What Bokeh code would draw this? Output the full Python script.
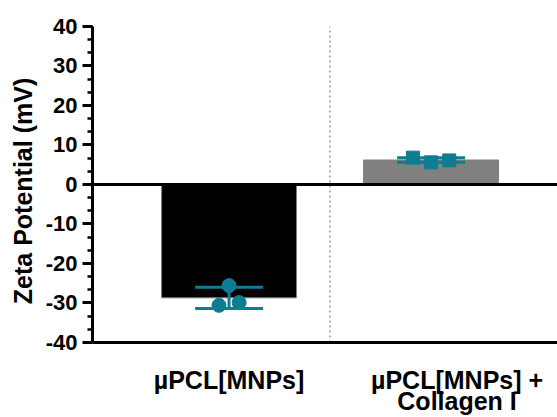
from bokeh.plotting import figure
from bokeh.layouts import column
from bokeh.models import (Range1d, SingleIntervalTicker, Span, ColumnDataSource,
                          PrintfTickFormatter)
from bokeh.core.properties import value
from bokeh.embed import file_html
from bokeh.resources import INLINE

# ---- data ----
categories = ["µPCL[MNPs]", "µPCL[MNPs] +\nCollagen I"]
bar_means = [-28.7, 6.2]
bar_sd = [2.7, 0.6]
points_group1 = [-30.6, -25.6, -29.9]
points_group2 = [6.8, 5.6, 6.1]
jitter_group1 = [-0.05, 0.0, 0.05]
jitter_group2 = [-0.09, 0.0, 0.09]
y_min, y_max = -40, 40
y_ticks_interval = 10

TEAL = "#0e7d92"
FONT = "Liberation Sans"

xs = list(range(1, len(categories) + 1))
x_range = Range1d(0.324, 2.626)

p = figure(width=557, height=355, output_backend="svg", toolbar_location=None,
           x_range=x_range, y_range=Range1d(y_min - 3.3, y_max),
           x_axis_type=None,
           min_border_left=92, min_border_right=0, min_border_top=26,
           min_border_bottom=0)
p.outline_line_color = None
p.ygrid.visible = False
p.background_fill_color = "white"

# bars
p.vbar(x=xs[0], top=bar_means[0], bottom=0, width=0.668, fill_color="black",
       line_color="#7f7f7f", line_width=1)
p.vbar(x=xs[1], top=bar_means[1], bottom=0, width=0.668, fill_color="#808080",
       line_color="#808080", line_width=1)

# separator between groups (dotted)
mid = (xs[0] + xs[1]) / 2
p.segment(x0=[mid], y0=[y_min], x1=[mid], y1=[y_max], line_color="#9a9a9a",
          line_width=1.5, line_dash="2 3")

# error bars (mean ± SD)
lo = [m - s for m, s in zip(bar_means, bar_sd)]
hi = [m + s for m, s in zip(bar_means, bar_sd)]
cap = 0.168
p.segment(x0=xs, y0=lo, x1=xs, y1=hi, line_color=TEAL, line_width=3)
p.segment(x0=[x - cap for x in xs], y0=lo, x1=[x + cap for x in xs], y1=lo,
          line_color=TEAL, line_width=3)
p.segment(x0=[x - cap for x in xs], y0=hi, x1=[x + cap for x in xs], y1=hi,
          line_color=TEAL, line_width=3)

# individual points
p.scatter(x=[xs[0] + j for j in jitter_group1], y=points_group1, marker="circle",
          size=14, fill_color=TEAL, line_color=TEAL)
p.scatter(x=[xs[1] + j for j in jitter_group2], y=points_group2, marker="square",
          size=13, fill_color=TEAL, line_color=TEAL)

# zero line and bottom axis line
p.add_layout(Span(location=0, dimension="width", line_color="black", line_width=3))
p.add_layout(Span(location=y_min, dimension="width", line_color="black", line_width=3))

# y axis
ya = p.yaxis[0]
ya.bounds = (y_min, y_max)
ya.ticker = SingleIntervalTicker(interval=y_ticks_interval, num_minor_ticks=3)
ya.formatter = PrintfTickFormatter(format="%d")
ya.axis_line_width = 3
ya.axis_line_color = "black"
ya.major_tick_line_width = 3
ya.minor_tick_line_width = 2.5
ya.major_tick_out = 10
ya.major_tick_in = 0
ya.minor_tick_out = 5
ya.minor_tick_in = 0
ya.major_label_standoff = 5
ya.major_label_text_font = FONT
ya.major_label_text_font_style = "bold"
ya.major_label_text_font_size = "22px"
ya.major_label_text_color = "black"
ya.axis_label = "Zeta Potential (mV)"
ya.axis_label_text_font = FONT
ya.axis_label_text_font_style = "bold"
ya.axis_label_text_font_size = "25px"
ya.axis_label_text_color = "black"
ya.axis_label_standoff = 6

# category labels in a strip below the chart, sharing the x range
lab_x, lab_text, lab_dx, lab_dy = [], [], [], []
shift = [0, 26]
for x, cat, dx in zip(xs, categories, shift):
    for i, line in enumerate(cat.split("\n")):
        lab_x.append(x)
        lab_text.append(line)
        lab_dx.append(dx)
        lab_dy.append(24 + 21 * i)
src = ColumnDataSource(dict(x=lab_x, text=lab_text, dx=lab_dx, dy=lab_dy,
                            y=[1] * len(lab_x)))

p2 = figure(width=557, height=62, output_backend="svg", toolbar_location=None,
            x_range=x_range, y_range=Range1d(0, 1),
            x_axis_type=None, y_axis_type=None,
            min_border_left=92, min_border_right=0, min_border_top=0,
            min_border_bottom=0)
p2.outline_line_color = None
p2.grid.visible = False
p2.text(x="x", y="y", text="text", x_offset="dx", y_offset="dy", source=src,
        text_align="center", text_baseline="alphabetic",
        text_font=value(FONT), text_font_style="bold", text_font_size="25px",
        text_color="black")

layout = column(p, p2, spacing=0)
open("out.html", "w").write(file_html(layout, INLINE))
